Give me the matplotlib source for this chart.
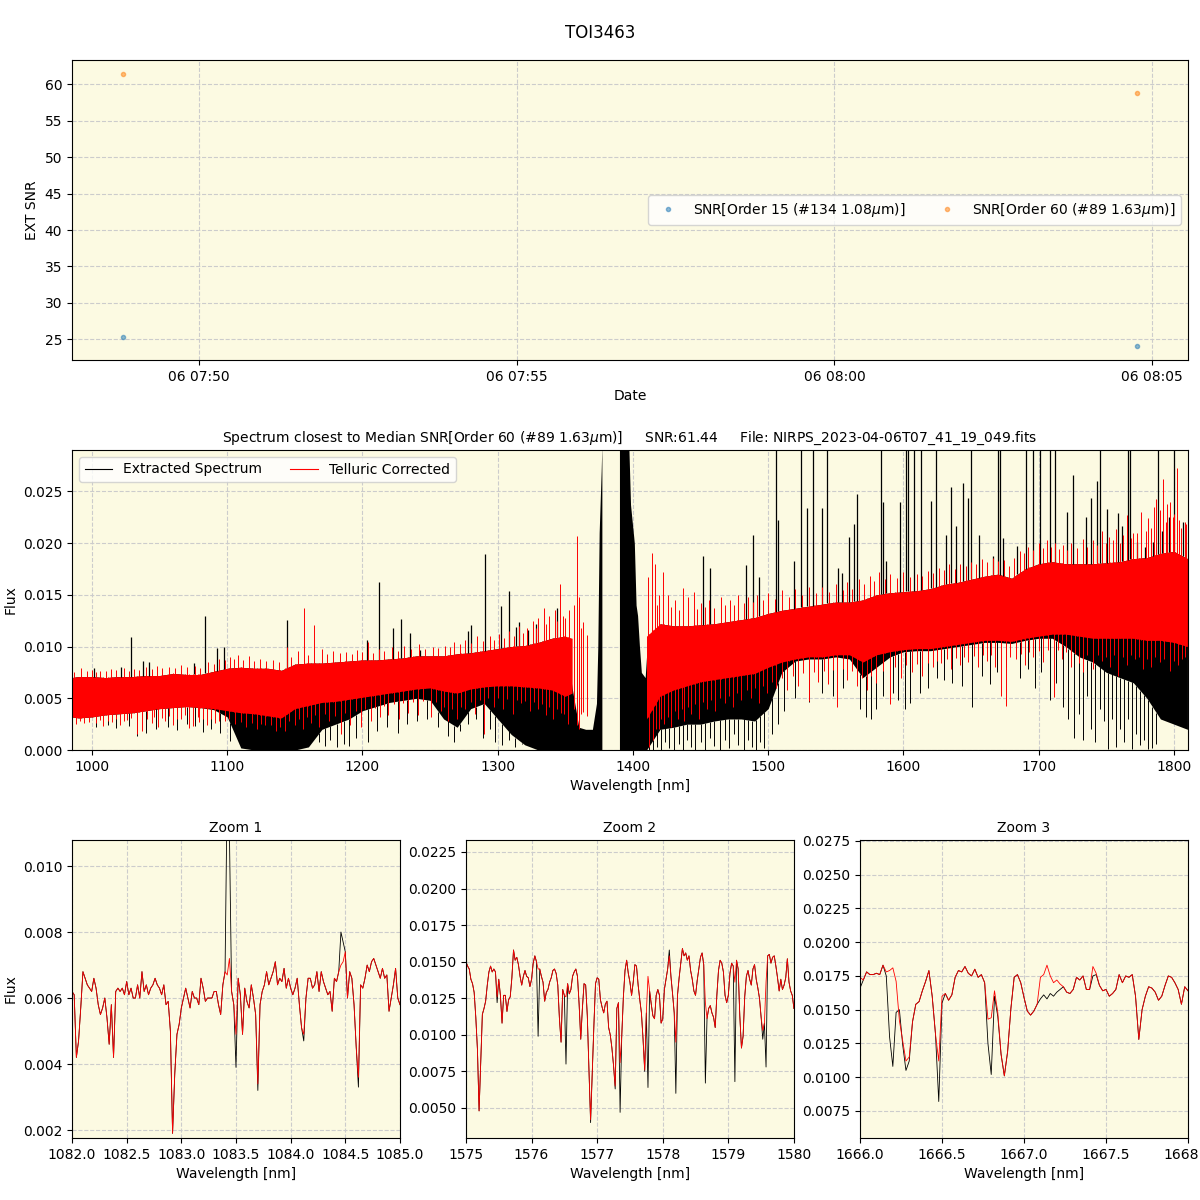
import matplotlib
matplotlib.use('Agg')
import matplotlib.pyplot as plt
import matplotlib.dates as mdates
from matplotlib.lines import Line2D
import numpy as np
import pandas as pd

BG = '#fcfae2'

# ---------------- SNR time series ----------------
obs_time = pd.to_datetime(['2023-04-06 07:48:48', '2023-04-06 08:04:46'])
snr_order15 = [25.3, 24.05]
snr_order60 = [61.44, 58.75]

# ---------------- full spectrum (band envelopes) ----------------
# telluric corrected, blue part
wl_a = [985, 990, 1000, 1010, 1020, 1030, 1040, 1050, 1060, 1070, 1080, 1090, 1100,
        1110, 1120, 1130, 1140, 1150, 1160, 1170, 1180, 1190, 1200, 1210, 1220, 1230,
        1240, 1250, 1260, 1270, 1280, 1290, 1300, 1310, 1320, 1330, 1340, 1350, 1355]
red_hi_a = [0.0070, 0.0071, 0.0071, 0.0070, 0.0071, 0.0071, 0.0072, 0.0072, 0.0074, 0.0073,
            0.0073, 0.0076, 0.0079, 0.0080, 0.0079, 0.0079, 0.0077, 0.0083, 0.0084, 0.0084,
            0.0085, 0.0086, 0.0087, 0.0087, 0.0088, 0.0089, 0.0091, 0.0091, 0.0091, 0.0093,
            0.0094, 0.0096, 0.0098, 0.0100, 0.0101, 0.0104, 0.0108, 0.0110, 0.0108]
red_lo_a = [0.0032, 0.0031, 0.0032, 0.0034, 0.0035, 0.0036, 0.0038, 0.0040, 0.0041, 0.0042,
            0.0041, 0.0040, 0.0038, 0.0036, 0.0035, 0.0033, 0.0031, 0.0040, 0.0043, 0.0046,
            0.0047, 0.0049, 0.0051, 0.0053, 0.0055, 0.0057, 0.0059, 0.0060, 0.0057, 0.0055,
            0.0059, 0.0061, 0.0062, 0.0062, 0.0061, 0.0060, 0.0058, 0.0052, 0.0055]

# telluric corrected, red part
wl_b = [1410, 1420, 1430, 1440, 1450, 1460, 1470, 1480, 1490, 1500, 1510, 1520, 1530, 1540,
        1550, 1560, 1570, 1580, 1590, 1600, 1610, 1620, 1630, 1640, 1650, 1660, 1670, 1680,
        1690, 1700, 1710, 1720, 1730, 1740, 1750, 1760, 1770, 1780, 1790, 1800, 1810]
red_hi_b = [0.0110, 0.0122, 0.0120, 0.0120, 0.0121, 0.0122, 0.0124, 0.0126, 0.0128, 0.0132,
            0.0135, 0.0137, 0.0139, 0.0141, 0.0143, 0.0143, 0.0145, 0.0150, 0.0152, 0.0153,
            0.0154, 0.0156, 0.0160, 0.0162, 0.0165, 0.0168, 0.0170, 0.0166, 0.0175, 0.0180,
            0.0182, 0.0180, 0.0180, 0.0180, 0.0181, 0.0182, 0.0185, 0.0186, 0.0190, 0.0192,
            0.0185]
red_lo_b = [0.0030, 0.0052, 0.0058, 0.0062, 0.0066, 0.0068, 0.0070, 0.0072, 0.0074, 0.0080,
            0.0085, 0.0088, 0.0090, 0.0090, 0.0092, 0.0092, 0.0085, 0.0092, 0.0095, 0.0097,
            0.0098, 0.0098, 0.0100, 0.0102, 0.0104, 0.0106, 0.0106, 0.0105, 0.0108, 0.0110,
            0.0112, 0.0112, 0.0110, 0.0108, 0.0108, 0.0108, 0.0108, 0.0106, 0.0106, 0.0104,
            0.0100]

# extracted spectrum, part 1 (up to the 1.38 um water band)
black_wl_1 = [985, 990, 1000, 1010, 1020, 1030, 1040, 1050, 1060, 1070, 1080, 1090, 1100,
              1110, 1120, 1130, 1140, 1150, 1160, 1170, 1180, 1190, 1200, 1210, 1220, 1230,
              1240, 1250, 1260, 1270, 1280, 1290, 1300, 1310, 1320, 1330, 1340, 1350, 1355,
              1360, 1365, 1370, 1373, 1374, 1375, 1376.5, 1377]
black_hi_1 = [0.0070, 0.0071, 0.0071, 0.0070, 0.0071, 0.0071, 0.0072, 0.0072, 0.0074, 0.0073,
              0.0073, 0.0076, 0.0079, 0.0080, 0.0079, 0.0079, 0.0077, 0.0083, 0.0084, 0.0084,
              0.0085, 0.0086, 0.0087, 0.0087, 0.0088, 0.0089, 0.0091, 0.0091, 0.0091, 0.0093,
              0.0094, 0.0096, 0.0098, 0.0100, 0.0101, 0.0104, 0.0108, 0.0110, 0.0060,
              0.0022, 0.0020, 0.0020, 0.0045, 0.0100, 0.0210, 0.0270, 0.0295]
black_lo_1 = [0.0032, 0.0031, 0.0032, 0.0034, 0.0035, 0.0036, 0.0038, 0.0040, 0.0041, 0.0042,
              0.0041, 0.0039, 0.0032, 0.0002, 0.0, 0.0, 0.0, 0.0, 0.0003, 0.0020,
              0.0025, 0.0030, 0.0038, 0.0042, 0.0046, 0.0048, 0.0050, 0.0048, 0.0030, 0.0022,
              0.0040, 0.0045, 0.0030, 0.0015, 0.0005, 0.0, 0.0, 0.0, 0.0,
              0.0, 0.0, 0.0, 0.0, 0.0, 0.0, 0.0, 0.0]

# extracted spectrum, part 2
black_wl_2 = [1390, 1396.8, 1398.2, 1401, 1402.3, 1403.4, 1404.8, 1406.2, 1409,
              1410, 1420, 1430, 1440, 1450, 1460, 1470, 1480, 1490, 1500, 1510, 1520, 1530,
              1540, 1550, 1560, 1570, 1580, 1590, 1600, 1610, 1620, 1630, 1640, 1650, 1660,
              1670, 1680, 1690, 1700, 1710, 1720, 1730, 1740, 1750, 1760, 1770, 1780, 1790,
              1800, 1810]
black_hi_2 = [0.0300, 0.0300, 0.0237, 0.0200, 0.0140, 0.0130, 0.0100, 0.0075, 0.0070,
              0.0090, 0.0122, 0.0120, 0.0120, 0.0121, 0.0122, 0.0124, 0.0126, 0.0128, 0.0132,
              0.0135, 0.0137, 0.0139, 0.0141, 0.0143, 0.0143, 0.0145, 0.0150, 0.0152, 0.0153,
              0.0154, 0.0156, 0.0160, 0.0162, 0.0165, 0.0168, 0.0170, 0.0166, 0.0175, 0.0180,
              0.0182, 0.0180, 0.0180, 0.0180, 0.0181, 0.0182, 0.0185, 0.0186, 0.0190, 0.0192,
              0.0185]
black_lo_2 = [0.0, 0.0, 0.0, 0.0, 0.0, 0.0, 0.0, 0.0, 0.0,
              0.0, 0.0020, 0.0022, 0.0025, 0.0025, 0.0028, 0.0030, 0.0030, 0.0028, 0.0040,
              0.0075, 0.0086, 0.0088, 0.0088, 0.0090, 0.0088, 0.0070, 0.0080, 0.0090, 0.0095,
              0.0096, 0.0096, 0.0098, 0.0100, 0.0102, 0.0104, 0.0104, 0.0103, 0.0106, 0.0108,
              0.0108, 0.0100, 0.0090, 0.0085, 0.0075, 0.0070, 0.0065, 0.0050, 0.0030, 0.0025,
              0.0020]

# sky emission lines in the extracted spectrum (0.031 = off scale)
sky_wl = [1001.3, 1021.4, 1029.0, 1037.5, 1042.3, 1075.7, 1083.3, 1092.7, 1097.5, 1144.2,
          1203.6, 1212.4, 1222.9, 1228.5, 1235.3, 1242.4, 1278.1, 1280.6, 1290.8, 1302.1,
          1308.3, 1313.3, 1315.7, 1322.4, 1328.1, 1344.0,
          1452.0, 1456.6, 1483.3, 1489.0, 1493.4, 1507.0, 1518.9, 1528.9, 1539.7, 1551.3,
          1554.5, 1560.0, 1563.4, 1565.8, 1585.1, 1587.1, 1597.4, 1620.4, 1631.8, 1635.4,
          1638.8, 1644.3, 1647.9, 1655.6, 1666.5, 1673.3, 1684.2, 1721.1, 1725.1, 1734.9,
          1739.0, 1743.1, 1750.6, 1759.0, 1761.3, 1772.9, 1778.5, 1784.2, 1791.0, 1796.3,
          1806.9,
          1505.6, 1524.6, 1533.4, 1543.5, 1583.6, 1602.2, 1603.7, 1608.0, 1612.9, 1623.9,
          1650.0, 1669.8, 1671.3, 1690.5, 1695.8, 1700.7, 1708.0, 1712.4, 1745.2, 1766.4,
          1767.6, 1788.3, 1799.8]
sky_top = [0.0079, 0.0080, 0.0109, 0.0086, 0.0085, 0.0084, 0.0130, 0.0099, 0.0100, 0.0126,
           0.0106, 0.0162, 0.0118, 0.0127, 0.0113, 0.0097, 0.0115, 0.0121, 0.0189, 0.0139,
           0.0154, 0.0119, 0.0124, 0.0116, 0.0122, 0.0137,
           0.0188, 0.0176, 0.0179, 0.0208, 0.0167, 0.0222, 0.0183, 0.0234, 0.0234, 0.0176,
           0.0171, 0.0206, 0.0218, 0.0247, 0.0240, 0.0183, 0.0240, 0.0241, 0.0208, 0.0254,
           0.0217, 0.0258, 0.0244, 0.0208, 0.0188, 0.0205, 0.0197, 0.0230, 0.0266, 0.0225,
           0.0244, 0.0260, 0.0233, 0.0229, 0.0217, 0.0201, 0.0196, 0.0201, 0.0212, 0.0225,
           0.0220,
           0.031, 0.031, 0.031, 0.031, 0.031, 0.031, 0.031, 0.031, 0.031, 0.031,
           0.031, 0.031, 0.031, 0.031, 0.031, 0.031, 0.031, 0.031, 0.031, 0.031,
           0.031, 0.031, 0.031]

# deep absorption lines in the extracted spectrum
black_dip_wl = [1003, 1012, 1018, 1027, 1033, 1040, 1047, 1056, 1063, 1070, 1076, 1082, 1088,
                1095, 1102, 1168, 1172, 1176, 1181, 1186, 1190, 1195, 1204, 1211, 1218, 1226,
                1233, 1240, 1248, 1256, 1263, 1268, 1272, 1278, 1284, 1289, 1294, 1298, 1303,
                1308, 1313, 1318,
                1412, 1415, 1418, 1421, 1424, 1427, 1430, 1434, 1437, 1440, 1443, 1446, 1450,
                1453, 1457, 1460, 1464, 1468, 1471, 1475, 1478, 1482, 1485, 1488, 1491, 1494,
                1497, 1503, 1507, 1512, 1520, 1530, 1540, 1548, 1555, 1568, 1572, 1576, 1580,
                1585, 1592, 1596, 1601, 1605, 1612, 1618, 1625, 1630, 1636, 1643, 1651, 1658,
                1664, 1669, 1676, 1686, 1692, 1697, 1702, 1708, 1713, 1718, 1722, 1726, 1730,
                1733, 1736, 1739, 1742, 1745, 1748, 1751, 1754, 1757, 1760, 1763, 1766, 1769,
                1772, 1775, 1778, 1781, 1784, 1787]
black_dip_bot = [0.0022, 0.0024, 0.0021, 0.0023, 0.0014, 0.0016, 0.0020, 0.0022, 0.0019, 0.0025,
                 0.0023, 0.0017, 0.0020, 0.0016, 0.0009, 0.0008, 0.0004, 0.0010, 0.0003, 0.0006,
                 0.0004, 0.0012, 0.0008, 0.0018, 0.0022, 0.0016, 0.0025, 0.0028, 0.0030, 0.0022,
                 0.0014, 0.0008, 0.0018, 0.0025, 0.0030, 0.0012, 0.0020, 0.0008, 0.0005, 0.0010,
                 0.0003, 0.0006,
                 0.0, 0.0, 0.0003, 0.0, 0.0008, 0.0002, 0.0, 0.0006, 0.0, 0.0010, 0.0003, 0.0,
                 0.0008, 0.0, 0.0012, 0.0004, 0.0, 0.0010, 0.0002, 0.0015, 0.0005, 0.0, 0.0010,
                 0.0003, 0.0, 0.0008, 0.0002, 0.0015, 0.0025, 0.0038, 0.0050, 0.0046, 0.0055,
                 0.0052, 0.0060, 0.0040, 0.0032, 0.0030, 0.0040, 0.0052, 0.0055, 0.0048, 0.0040,
                 0.0045, 0.0055, 0.0060, 0.0070, 0.0068, 0.0065, 0.0062, 0.0042, 0.0072, 0.0064,
                 0.0075, 0.0080, 0.0070, 0.0078, 0.0060, 0.0075, 0.0048, 0.0065, 0.0042, 0.0030,
                 0.0012, 0.0035, 0.0010, 0.0052, 0.0020, 0.0008, 0.0040, 0.0028, 0.0001, 0.0030,
                 0.0003, 0.0020, 0.0008, 0.0030, 0.0001, 0.0015, 0.0005, 0.0010, 0.0001, 0.0002,
                 0.0006]

# residual spikes of the telluric corrected spectrum: strong ones
red_up_wl = [992, 1000, 1006, 1014, 1024, 1031, 1040, 1048, 1057, 1066, 1076, 1086, 1094, 1102,
             1108, 1116, 1124, 1134, 1144, 1152, 1157, 1164, 1170, 1178, 1188, 1196, 1204, 1212,
             1222, 1231, 1242, 1252, 1261, 1268, 1276, 1285, 1294, 1301, 1308, 1316, 1322, 1326,
             1330, 1334, 1338, 1342, 1346, 1350, 1353,
             1411, 1414, 1416, 1419, 1422, 1426, 1431, 1437, 1441, 1445, 1450, 1456, 1465, 1472,
             1478, 1485, 1492, 1500, 1510, 1520, 1530, 1540, 1550, 1558, 1567, 1575, 1582, 1590,
             1600, 1610, 1618, 1626, 1634, 1642, 1650, 1658, 1666, 1674, 1686, 1692, 1700, 1706,
             1712, 1718, 1724, 1733, 1740, 1747, 1752, 1757, 1762, 1765, 1770, 1776, 1781, 1785,
             1787, 1790, 1792, 1795, 1797, 1800, 1802, 1805, 1808]
red_up_top = [0.0079, 0.0077, 0.0076, 0.0078, 0.0079, 0.0078, 0.0080, 0.0081, 0.0080, 0.0082,
              0.0081, 0.0085, 0.0088, 0.0090, 0.0092, 0.0091, 0.0088, 0.0087, 0.0100, 0.0096,
              0.0137, 0.0121, 0.0098, 0.0096, 0.0095, 0.0097, 0.0104, 0.0098, 0.0100, 0.0101,
              0.0102, 0.0100, 0.0101, 0.0104, 0.0106, 0.0110, 0.0110, 0.0112, 0.0115, 0.0120,
              0.0118, 0.0125, 0.0128, 0.0137, 0.0130, 0.0135, 0.0160, 0.0128, 0.0135,
              0.0167, 0.0190, 0.0180, 0.0150, 0.0172, 0.0150, 0.0145, 0.0157, 0.0148, 0.0153,
              0.0142, 0.0145, 0.0148, 0.0145, 0.0150, 0.0148, 0.0150, 0.0152, 0.0155, 0.0156,
              0.0158, 0.0158, 0.0160, 0.0162, 0.0165, 0.0168, 0.0172, 0.0170, 0.0172, 0.0170,
              0.0173, 0.0176, 0.0180, 0.0180, 0.0182, 0.0185, 0.0186, 0.0184, 0.0192, 0.0196,
              0.0200, 0.0203, 0.0200, 0.0198, 0.0200, 0.0204, 0.0203, 0.0212, 0.0206, 0.0214,
              0.0208, 0.0227, 0.0210, 0.0230, 0.0224, 0.0235, 0.0243, 0.0232, 0.0262, 0.0238,
              0.0240, 0.0228, 0.0273, 0.0215, 0.0220]
red_dip_wl = [988, 994, 1003, 1008, 1015, 1021, 1026, 1033, 1037, 1044, 1049, 1054, 1060, 1066,
              1072, 1075, 1079, 1085, 1091, 1098, 1106, 1114, 1122, 1128, 1136, 1143, 1150, 1156,
              1162, 1168, 1175, 1184, 1191, 1199, 1206, 1213, 1219, 1227, 1234, 1241, 1251, 1258,
              1263, 1270, 1276, 1283, 1290, 1297, 1304, 1311, 1317, 1324, 1330, 1336, 1341, 1347,
              1352,
              1412, 1415, 1419, 1423, 1428, 1433, 1438, 1443, 1449, 1455, 1461, 1468, 1474, 1480,
              1487, 1493, 1499, 1506, 1514, 1522, 1530, 1537, 1544, 1551, 1558, 1566, 1573, 1580,
              1590, 1598, 1606, 1614, 1622, 1628, 1635, 1642, 1648, 1655, 1662, 1668, 1672, 1676,
              1683, 1690, 1696, 1703, 1711, 1717, 1724, 1730, 1733, 1740, 1747, 1753, 1759, 1765,
              1771, 1777, 1783, 1790, 1797, 1803, 1808]
red_dip_bot = [0.0025, 0.0026, 0.0026, 0.0023, 0.0027, 0.0024, 0.0029, 0.0015, 0.0018, 0.0026,
               0.0022, 0.0028, 0.0024, 0.0030, 0.0021, 0.0023, 0.0027, 0.0024, 0.0026, 0.0028,
               0.0025, 0.0022, 0.0020, 0.0024, 0.0018, 0.0018, 0.0024, 0.0020, 0.0026, 0.0022,
               0.0028, 0.0015, 0.0024, 0.0022, 0.0028, 0.0032, 0.0034, 0.0030, 0.0036, 0.0034,
               0.0032, 0.0038, 0.0028, 0.0030, 0.0040, 0.0035, 0.0015, 0.0042, 0.0040, 0.0035,
               0.0045, 0.0038, 0.0040, 0.0034, 0.0030, 0.0036, 0.0025,
               0.0003, 0.0010, 0.0020, 0.0025, 0.0022, 0.0030, 0.0028, 0.0035, 0.0030, 0.0040,
               0.0038, 0.0045, 0.0042, 0.0048, 0.0050, 0.0045, 0.0055, 0.0060, 0.0058, 0.0062,
               0.0047, 0.0066, 0.0064, 0.0042, 0.0068, 0.0062, 0.0058, 0.0065, 0.0044, 0.0070,
               0.0075, 0.0072, 0.0080, 0.0084, 0.0078, 0.0082, 0.0085, 0.0080, 0.0086, 0.0080,
               0.0052, 0.0043, 0.0088, 0.0082, 0.0090, 0.0085, 0.0051, 0.0088, 0.0080, 0.0084,
               0.0075, 0.0078, 0.0086, 0.0080, 0.0072, 0.0082, 0.0088, 0.0078, 0.0080, 0.0085,
               0.0076, 0.0082, 0.0090]
# weaker fringe spikes along the band edges
red_fr_up_wl = [987, 996, 1003, 1010, 1018, 1027, 1035, 1044, 1052, 1061, 1070, 1080, 1090, 1098,
                1105, 1112, 1120, 1129, 1138, 1147, 1160, 1174, 1183, 1192, 1200, 1208, 1216, 1226,
                1236, 1246, 1256, 1265, 1272, 1280, 1289, 1297, 1305, 1312, 1319, 1328, 1336, 1344,
                1348,
                1418, 1428, 1434, 1447, 1453, 1460, 1468, 1475, 1482, 1489, 1496, 1505, 1515, 1525,
                1535, 1545, 1555, 1562, 1571, 1578, 1586, 1595, 1605, 1614, 1622, 1630, 1638, 1646,
                1654, 1662, 1670, 1678, 1682, 1689, 1696, 1703, 1709, 1715, 1721, 1728, 1736, 1743,
                1750, 1755, 1760, 1768, 1773, 1779, 1783, 1794, 1799, 1804, 1809]
red_fr_up_top = [0.0075, 0.0076, 0.0075, 0.0076, 0.0077, 0.0076, 0.0077, 0.0078, 0.0079, 0.0079,
                 0.0080, 0.0079, 0.0083, 0.0087, 0.0088, 0.0087, 0.0086, 0.0086, 0.0085, 0.0090,
                 0.0092, 0.0093, 0.0094, 0.0093, 0.0095, 0.0094, 0.0096, 0.0096, 0.0098, 0.0098,
                 0.0099, 0.0100, 0.0102, 0.0103, 0.0105, 0.0106, 0.0108, 0.0110, 0.0113, 0.0118,
                 0.0122, 0.0125, 0.0130,
                 0.0140, 0.0138, 0.0135, 0.0136, 0.0138, 0.0137, 0.0140, 0.0140, 0.0142, 0.0143,
                 0.0145, 0.0146, 0.0148, 0.0150, 0.0152, 0.0153, 0.0155, 0.0156, 0.0160, 0.0163,
                 0.0165, 0.0166, 0.0167, 0.0168, 0.0171, 0.0174, 0.0175, 0.0178, 0.0180, 0.0182,
                 0.0183, 0.0178, 0.0186, 0.0190, 0.0193, 0.0195, 0.0196, 0.0194, 0.0193, 0.0195,
                 0.0196, 0.0198, 0.0200, 0.0203, 0.0200, 0.0205, 0.0210, 0.0212, 0.0215, 0.0220,
                 0.0225, 0.0222, 0.0218]
red_fr_dip_wl = [991, 998, 1006, 1012, 1018, 1024, 1029, 1041, 1046, 1052, 1057, 1063, 1069, 1078,
                 1082, 1088, 1094, 1101, 1110, 1118, 1125, 1132, 1139, 1146, 1153, 1159, 1165,
                 1172, 1180, 1187, 1195, 1202, 1209, 1216, 1223, 1230, 1237, 1245, 1254, 1260,
                 1266, 1273, 1280, 1287, 1293, 1300, 1307, 1314, 1320, 1327, 1333, 1338, 1344,
                 1349,
                 1417, 1421, 1426, 1431, 1436, 1441, 1446, 1452, 1458, 1464, 1471, 1477, 1484,
                 1490, 1496, 1503, 1510, 1518, 1526, 1534, 1541, 1548, 1555, 1562, 1569, 1576,
                 1585, 1594, 1602, 1610, 1618, 1625, 1632, 1639, 1645, 1652, 1659, 1665, 1679,
                 1687, 1693, 1700, 1707, 1714, 1720, 1727, 1736, 1744, 1750, 1756, 1762, 1768,
                 1774, 1780, 1786, 1793, 1800, 1806]
red_fr_dip_bot = [0.0028, 0.0027, 0.0029, 0.0028, 0.0030, 0.0028, 0.0031, 0.0030, 0.0032, 0.0031,
                  0.0033, 0.0030, 0.0034, 0.0032, 0.0030, 0.0030, 0.0028, 0.0030, 0.0027, 0.0026,
                  0.0025, 0.0024, 0.0022, 0.0028, 0.0030, 0.0032, 0.0034, 0.0035, 0.0033, 0.0036,
                  0.0038, 0.0040, 0.0041, 0.0043, 0.0044, 0.0045, 0.0046, 0.0047, 0.0046, 0.0042,
                  0.0040, 0.0042, 0.0046, 0.0048, 0.0050, 0.0050, 0.0049, 0.0048, 0.0047, 0.0046,
                  0.0044, 0.0042, 0.0040, 0.0035,
                  0.0020, 0.0030, 0.0032, 0.0038, 0.0040, 0.0042, 0.0044, 0.0046, 0.0048, 0.0050,
                  0.0052, 0.0055, 0.0058, 0.0060, 0.0062, 0.0066, 0.0070, 0.0072, 0.0074, 0.0075,
                  0.0076, 0.0077, 0.0078, 0.0076, 0.0070, 0.0072, 0.0076, 0.0080, 0.0082, 0.0083,
                  0.0084, 0.0086, 0.0088, 0.0089, 0.0090, 0.0091, 0.0092, 0.0092, 0.0090, 0.0093,
                  0.0095, 0.0096, 0.0097, 0.0097, 0.0095, 0.0093, 0.0092, 0.0092, 0.0090, 0.0092,
                  0.0090, 0.0092, 0.0090, 0.0088, 0.0090, 0.0088, 0.0086, 0.0088]
# isolated red lines inside the 1.38 um band
red_line_wl = [1356.5, 1358.4, 1359.8, 1361.5, 1363.3, 1366.2]
red_line_lo = [0.0040, 0.0024, 0.0020, 0.0035, 0.0037, 0.0033]
red_line_hi = [0.0140, 0.0207, 0.0148, 0.0118, 0.0124, 0.0111]

# ---------------- zoom windows ----------------
z1_wl = np.linspace(1082.0, 1085.0, 151)
z1_red = [0.0062, 0.0061, 0.0042, 0.0047, 0.0057, 0.0068, 0.0066, 0.0064, 0.0063, 0.0062,
          0.0066, 0.0063, 0.0058, 0.0055, 0.0057, 0.0060, 0.0054, 0.0046, 0.0058, 0.0042,
          0.0062, 0.0063, 0.0062, 0.0063, 0.0061, 0.0065, 0.0061, 0.0063, 0.0060, 0.0060,
          0.0064, 0.0060, 0.0068, 0.0062, 0.0064, 0.0061, 0.0063, 0.0064, 0.0066, 0.0064,
          0.0063, 0.0061, 0.0064, 0.0058, 0.0059, 0.0050, 0.0019, 0.0037, 0.0049, 0.0052,
          0.0057, 0.0060, 0.0063, 0.0060, 0.0057, 0.0062, 0.0060, 0.0060, 0.0058, 0.0066,
          0.0063, 0.0059, 0.0060, 0.0060, 0.0060, 0.0062, 0.0062, 0.0058, 0.0055, 0.0064,
          0.0068, 0.0067, 0.0072, 0.0062, 0.0058, 0.0049, 0.0066, 0.0061, 0.0049, 0.0063,
          0.0059, 0.0057, 0.0064, 0.0060, 0.0055, 0.0034, 0.0058, 0.0062, 0.0064, 0.0068,
          0.0064, 0.0066, 0.0068, 0.0071, 0.0064, 0.0066, 0.0065, 0.0069, 0.0063, 0.0066,
          0.0063, 0.0061, 0.0063, 0.0066, 0.0058, 0.0051, 0.0049, 0.0060, 0.0066, 0.0066,
          0.0063, 0.0064, 0.0068, 0.0062, 0.0068, 0.0065, 0.0063, 0.0061, 0.0062, 0.0056,
          0.0066, 0.0065, 0.0068, 0.0070, 0.0071, 0.0074, 0.0060, 0.0068, 0.0066, 0.0058,
          0.0045, 0.0036, 0.0064, 0.0063, 0.0066, 0.0070, 0.0068, 0.0071, 0.0072, 0.0070,
          0.0068, 0.0066, 0.0069, 0.0066, 0.0067, 0.0056, 0.0060, 0.0064, 0.0069, 0.0060,
          0.0058]
z1_black_diff = {71: 0.0125, 72: 0.0110, 75: 0.0039, 85: 0.0032, 106: 0.0047,
                 123: 0.0080, 124: 0.0077, 131: 0.0033}

z2_wl = np.linspace(1575.0, 1580.0, 201)
z2_red = [0.0150, 0.0147, 0.0145, 0.0138, 0.0135, 0.0129, 0.0112, 0.0090, 0.0048, 0.0081,
          0.0114, 0.0118, 0.0123, 0.0134, 0.0143, 0.0147, 0.0143, 0.0145, 0.0143, 0.0126,
          0.0138, 0.0127, 0.0108, 0.0127, 0.0127, 0.0116, 0.0124, 0.0126, 0.0139, 0.0158,
          0.0151, 0.0153, 0.0148, 0.0140, 0.0134, 0.0140, 0.0144, 0.0140, 0.0139, 0.0133,
          0.0138, 0.0149, 0.0154, 0.0150, 0.0145, 0.0145, 0.0140, 0.0136, 0.0123, 0.0129,
          0.0131, 0.0136, 0.0139, 0.0144, 0.0145, 0.0142, 0.0134, 0.0111, 0.0095, 0.0131,
          0.0127, 0.0126, 0.0135, 0.0128, 0.0131, 0.0140, 0.0143, 0.0145, 0.0140, 0.0121,
          0.0097, 0.0118, 0.0135, 0.0134, 0.0113, 0.0076, 0.0042, 0.0074, 0.0106, 0.0135,
          0.0139, 0.0138, 0.0124, 0.0119, 0.0115, 0.0121, 0.0123, 0.0105, 0.0100, 0.0091,
          0.0079, 0.0065, 0.0118, 0.0122, 0.0081, 0.0099, 0.0126, 0.0144, 0.0151, 0.0142,
          0.0136, 0.0127, 0.0136, 0.0148, 0.0147, 0.0134, 0.0124, 0.0115, 0.0097, 0.0076,
          0.0115, 0.0140, 0.0130, 0.0121, 0.0113, 0.0111, 0.0127, 0.0131, 0.0127, 0.0108,
          0.0111, 0.0131, 0.0138, 0.0145, 0.0154, 0.0140, 0.0128, 0.0115, 0.0095, 0.0127,
          0.0139, 0.0149, 0.0159, 0.0154, 0.0156, 0.0151, 0.0154, 0.0144, 0.0138, 0.0130,
          0.0127, 0.0137, 0.0145, 0.0153, 0.0156, 0.0148, 0.0122, 0.0111, 0.0118, 0.0120,
          0.0115, 0.0112, 0.0105, 0.0127, 0.0144, 0.0151, 0.0149, 0.0143, 0.0127, 0.0122,
          0.0127, 0.0142, 0.0149, 0.0147, 0.0136, 0.0151, 0.0145, 0.0113, 0.0091, 0.0099,
          0.0126, 0.0140, 0.0144, 0.0138, 0.0134, 0.0145, 0.0148, 0.0138, 0.0132, 0.0125,
          0.0112, 0.0103, 0.0108, 0.0136, 0.0154, 0.0155, 0.0149, 0.0153, 0.0154, 0.0147,
          0.0139, 0.0130, 0.0138, 0.0131, 0.0134, 0.0139, 0.0152, 0.0136, 0.0130, 0.0127,
          0.0118]
z2_black_diff = {19: 0.0122, 44: 0.0099, 61: 0.0080, 76: 0.0040, 91: 0.0063, 94: 0.0047,
                 109: 0.0075, 111: 0.0064, 124: 0.0158, 128: 0.0060, 146: 0.0067,
                 164: 0.0068, 181: 0.0097, 183: 0.0078}

z3_wl = np.linspace(1666.0, 1668.0, 101)
z3_red = [0.0174, 0.0172, 0.0178, 0.0176, 0.0176, 0.0177, 0.0176, 0.0183, 0.0178, 0.0179,
          0.0181, 0.0171, 0.0142, 0.0127, 0.0112, 0.0115, 0.0141, 0.0154, 0.0156, 0.0164,
          0.0171, 0.0179, 0.0160, 0.0132, 0.0112, 0.0160, 0.0162, 0.0157, 0.0161, 0.0174,
          0.0179, 0.0178, 0.0182, 0.0177, 0.0175, 0.0180, 0.0174, 0.0176, 0.0170, 0.0143,
          0.0144, 0.0164, 0.0148, 0.0117, 0.0101, 0.0119, 0.0151, 0.0174, 0.0176, 0.0170,
          0.0159, 0.0149, 0.0146, 0.0149, 0.0154, 0.0174, 0.0176, 0.0183, 0.0175, 0.0170,
          0.0172, 0.0169, 0.0167, 0.0163, 0.0162, 0.0165, 0.0174, 0.0172, 0.0175, 0.0165,
          0.0165, 0.0182, 0.0177, 0.0168, 0.0164, 0.0165, 0.0160, 0.0162, 0.0165, 0.0176,
          0.0170, 0.0175, 0.0174, 0.0176, 0.0160, 0.0128, 0.0150, 0.0160, 0.0167, 0.0166,
          0.0163, 0.0157, 0.0160, 0.0168, 0.0175, 0.0174, 0.0170, 0.0165, 0.0154, 0.0167,
          0.0164]
z3_black_diff = {0: 0.0166, 8: 0.0175, 9: 0.0130, 10: 0.0108, 11: 0.0148, 12: 0.0150,
                 13: 0.0124, 14: 0.0105, 15: 0.0112, 24: 0.0082, 25: 0.0155, 39: 0.0125,
                 40: 0.0102, 41: 0.0160, 42: 0.0145, 55: 0.0158, 56: 0.0161, 57: 0.0158,
                 58: 0.0162, 59: 0.0160, 60: 0.0163, 61: 0.0165, 71: 0.0175, 72: 0.0176}


def with_diff(base, diff):
    out = list(base)
    for i, v in diff.items():
        out[i] = v
    return out


def style(ax):
    ax.set_facecolor(BG)
    ax.set_axisbelow(True)
    ax.grid(True, ls='--', color='#cccccc', lw=0.8)


fig = plt.figure(figsize=(12, 12), dpi=100)
fig.suptitle('TOI3463', fontsize=12)

# ---- top: SNR ----
ax1 = fig.add_axes([0.06, 0.70, 0.93, 0.25])
style(ax1)
ax1.plot(obs_time, snr_order15, '.', alpha=0.5, label='SNR[Order 15 (#134 1.08$\\mu$m)]')
ax1.plot(obs_time, snr_order60, '.', alpha=0.5, label='SNR[Order 60 (#89 1.63$\\mu$m)]')
ax1.xaxis.set_major_locator(mdates.MinuteLocator(byminute=range(0, 60, 5)))
ax1.xaxis.set_major_formatter(mdates.DateFormatter('%d %H:%M'))
ax1.set_xlabel('Date')
ax1.set_ylabel('EXT SNR')
ax1.legend(loc='center right', ncol=2)

# ---- middle: full spectrum ----
ax2 = fig.add_axes([0.06, 0.375, 0.93, 0.25])
style(ax2)
bwl = black_wl_1 + black_wl_2
b_hi = black_hi_1 + black_hi_2
b_lo = black_lo_1 + black_lo_2
ax2.fill_between(black_wl_1, black_lo_1, black_hi_1, color='k', lw=0)
ax2.fill_between(black_wl_2, black_lo_2, black_hi_2, color='k', lw=0)
ax2.vlines(sky_wl, np.interp(sky_wl, bwl, b_hi), sky_top, color='k', lw=0.9)
ax2.vlines(black_dip_wl, black_dip_bot, np.interp(black_dip_wl, bwl, b_lo), color='k', lw=0.7)

rwl = wl_a + wl_b
r_hi = red_hi_a + red_hi_b
r_lo = red_lo_a + red_lo_b
ax2.fill_between(wl_a, red_lo_a, red_hi_a, color='red', lw=0)
ax2.fill_between(wl_b, red_lo_b, red_hi_b, color='red', lw=0)
ax2.vlines(red_up_wl, np.interp(red_up_wl, rwl, r_lo), red_up_top, color='red', lw=0.7)
ax2.vlines(red_fr_up_wl, np.interp(red_fr_up_wl, rwl, r_lo), red_fr_up_top, color='red', lw=0.7)
ax2.vlines(red_dip_wl, red_dip_bot, np.interp(red_dip_wl, rwl, r_hi), color='red', lw=0.7)
ax2.vlines(red_fr_dip_wl, red_fr_dip_bot, np.interp(red_fr_dip_wl, rwl, r_hi), color='red', lw=0.7)
ax2.vlines(red_line_wl, red_line_lo, red_line_hi, color='red', lw=0.7)
ax2.set_xlim(985.2, 1810.4)
ax2.set_ylim(0, 0.029)
ax2.set_xlabel('Wavelength [nm]')
ax2.set_ylabel('Flux')
ax2.set_title('Spectrum closest to Median SNR[Order 60 (#89 1.63$\\mu$m)]     SNR:61.44     '
              'File: NIRPS_2023-04-06T07_41_19_049.fits', fontsize=10)
handles = [Line2D([], [], color='k', lw=0.8), Line2D([], [], color='red', lw=0.8)]
ax2.legend(handles, ['Extracted Spectrum', 'Telluric Corrected'], loc='upper left', ncol=2)

# ---- bottom: zooms ----
zooms = [
    (z1_wl, z1_red, with_diff(z1_red, z1_black_diff), (0.00176, 0.01079), 0.06),
    (z2_wl, z2_red, with_diff(z2_red, z2_black_diff), (0.00295, 0.02332), 0.3883),
    (z3_wl, z3_red, with_diff(z3_red, z3_black_diff), (0.0055, 0.02757), 0.7167),
]
for k, (wl, red, black, ylim, x0) in enumerate(zooms):
    ax = fig.add_axes([x0, 0.0517, 0.2733, 0.2483])
    style(ax)
    ax.plot(wl, black, color='k', lw=0.6)
    ax.plot(wl, red, color='red', lw=0.6)
    ax.set_xlim(wl[0], wl[-1])
    ax.set_ylim(*ylim)
    ax.set_title('Zoom %d' % (k + 1), fontsize=10)
    ax.set_xlabel('Wavelength [nm]')
    if k == 0:
        ax.set_ylabel('Flux')

fig.savefig('out.png', dpi=100)
